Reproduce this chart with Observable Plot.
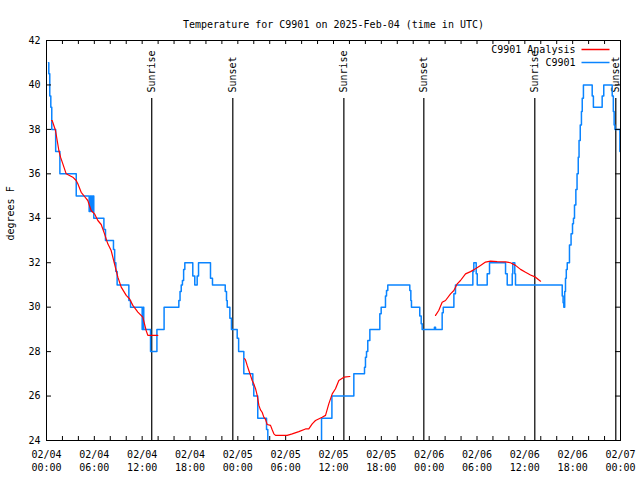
<!DOCTYPE html>
<html>
<head>
<meta charset="utf-8">
<script src="https://cdn.jsdelivr.net/npm/d3@7"></script>
<script src="https://cdn.jsdelivr.net/npm/@observablehq/plot@0.6"></script>
<style>
  html, body { margin: 0; padding: 0; background: #fff; }
</style>
</head>
<body>
<div id="chart"></div>
<script>
// ---------------- data ----------------
const titleText = "Temperature for C9901 on 2025-Feb-04 (time in UTC)";
const yLabel = "degrees F";
const startUTC = Date.UTC(2025, 1, 4, 0, 0);   // 02/04 00:00 UTC
const spanHours = 72;

// Observations (C9901), hours since start, step series
const obsHours = [0.25,0.29,0.41,0.54,0.66,1.15,1.68,3.73,5.35,5.5,5.65,5.8,5.93,7.2,7.4,8.4,8.55,8.7,8.86,10.33,10.54,
  12.0,12.1,12.2,13.05,13.85,14.75,16.6,16.75,16.9,17.05,17.2,17.35,18.35,18.6,18.9,19.07,20.57,20.82,22.42,22.58,22.67,23.0,23.2,
  23.92,24.1,24.75,25.88,26.0,26.5,27.6,27.76,29.0,33.0,34.5,35.8,38.55,39.89,40.01,40.14,40.3,40.56,41.81,41.98,42.52,42.65,42.81,
  45.57,45.7,45.78,46.82,47.0,47.12,48.66,48.8,49.63,49.77,51.1,51.3,53.48,53.6,53.9,54.03,55.28,55.57,57.58,57.79,58.42,58.49,58.74,58.83,
  64.69,64.8,64.89,65.0,65.1,65.2,65.32,65.6,65.8,65.98,66.1,66.23,66.4,66.55,66.7,66.8,66.95,67.1,67.2,67.35,68.45,68.6,69.7,69.9,
  70.96,71.1,71.2,71.3,71.92,72.0];
const obsTemps = [41.0,40.5,39.5,39.0,38.0,37.0,36.0,35.0,34.3,35.0,34.3,35.0,34.0,33.5,33.0,32.6,32.0,31.6,31.0,30.3,30.0,
  29.0,30.0,29.0,28.0,29.0,30.0,30.3,30.7,31.0,31.2,31.7,32.0,31.4,31.0,31.4,32.0,31.3,31.0,30.7,30.3,30.0,29.5,29.0,
  28.6,28.0,27.0,26.5,26.0,25.0,24.5,23.0,22.0,23.0,25.0,26.0,27.0,27.3,27.75,28.0,28.5,29.0,29.7,30.0,30.5,30.75,31.0,
  30.75,30.3,30.0,29.6,29.25,29.0,29.1,29.0,29.75,30.0,30.6,31.0,31.6,32.0,31.5,31.0,31.5,32.0,31.5,31.0,31.5,32.0,31.5,31.0,
  30.5,30.2,30.0,30.7,31.3,31.7,32.0,32.8,33.3,33.75,34.0,34.6,35.3,36.0,36.75,37.5,38.2,38.8,39.4,40.0,39.5,39.0,39.5,40.0,
  39.5,38.8,38.2,38.0,37.0,37.0];

// Analysis (C9901 Analysis), null separates the three runs
const anaHours = [0.63,0.71,1.13,1.34,1.55,1.76,2.05,2.47,3.3,3.72,3.93,4.35,4.77,5.18,5.6,6.02,6.44,6.86,7.28,7.69,8.11,8.53,8.95,9.37,10.0,10.41,10.83,11.46,12.08,12.5,12.71,13.96,
  14.5,
  24.84,24.96,25.17,25.38,25.59,25.8,26.0,26.22,26.43,26.64,26.84,27.05,27.26,27.47,27.68,28.1,28.31,28.52,28.73,30.19,30.82,31.65,32.49,32.9,33.33,33.74,34.58,35.0,35.41,35.84,36.25,36.67,37.3,38.05,
  40.0,
  48.8,49.2,49.63,50.05,50.68,51.1,51.52,51.93,52.56,53.19,53.81,54.44,55.07,55.7,56.53,57.58,58.2,58.83,59.46,60.09,60.71,61.34,61.97];
const anaTemps = [38.4,38.4,37.95,37.5,37.05,36.75,36.45,36.0,35.85,35.7,35.55,35.17,34.98,34.8,34.35,34.2,33.9,33.72,33.3,32.85,32.55,31.95,31.35,30.9,30.53,30.38,30.08,29.78,29.55,28.95,28.73,28.73,
  null,
  27.68,27.63,27.38,27.15,26.93,26.7,26.55,26.33,26.03,25.58,25.38,25.27,25.05,24.95,24.72,24.68,24.48,24.3,24.23,24.23,24.3,24.4,24.52,24.52,24.75,24.9,25.05,25.13,25.65,26.1,26.33,26.7,26.85,26.88,
  null,
  29.63,29.85,30.22,30.3,30.6,30.75,31.05,31.2,31.5,31.6,31.73,31.88,32.03,32.07,32.05,32.04,32.0,31.88,31.7,31.57,31.45,31.35,31.17];

// Sunrise / sunset events
const eventHours = [13.2, 23.37, 37.3, 47.33, 61.25, 71.41];
const eventLabels = ["Sunrise", "Sunset", "Sunrise", "Sunset", "Sunrise", "Sunset"];

// Axis ticks
const xTickHours = [0, 6, 12, 18, 24, 30, 36, 42, 48, 54, 60, 66, 72];
const xTickLabels = ["02/04\n00:00","02/04\n06:00","02/04\n12:00","02/04\n18:00","02/05\n00:00","02/05\n06:00",
  "02/05\n12:00","02/05\n18:00","02/06\n00:00","02/06\n06:00","02/06\n12:00","02/06\n18:00","02/07\n00:00"];
const xMinorHours = d3.range(0, 73, 2);
const yTicks = [24, 26, 28, 30, 32, 34, 36, 38, 40, 42];

// Legend
const legendLabels = ["C9901 Analysis", "C9901"];
const legendColors = ["#ff0000", "#0a84ff"];

// ---------------- build ----------------
const toDate = h => new Date(startUTC + h * 3600e3);
const obs = obsHours.map((h, i) => ({t: toDate(h), v: obsTemps[i]}));
const ana = anaHours.map((h, i) => ({t: toDate(h), v: anaTemps[i]}));
const events = eventHours.map((h, i) => ({t: toDate(h), label: eventLabels[i]}));
const xTicks = xTickHours.map((h, i) => ({t: toDate(h), label: xTickLabels[i]}));

const lineShape = {draw(context, l) { context.moveTo(0, 0); context.lineTo(0, -l); }};

const legendMarks = legendLabels.flatMap((lab, i) => [
  Plot.text([lab], {frameAnchor: "top-right", dx: -45, dy: 9 + 13 * i, text: d => d, textAnchor: "end", lineAnchor: "middle"}),
  Plot.vector([lab], {frameAnchor: "top-right", dx: -11, dy: 9 + 13 * i, length: 28, rotate: -90, anchor: "start",
    stroke: legendColors[i], strokeWidth: 1.5, strokeLinecap: "butt", shape: lineShape})
]);

const chart = Plot.plot({
  width: 640,
  height: 480,
  marginTop: 40,
  marginBottom: 40,
  marginLeft: 46,
  marginRight: 20,
  style: {fontFamily: "'DejaVu Sans Mono', monospace", fontSize: "10px", background: "#fff", color: "#000", overflow: "visible"},
  x: {type: "utc", domain: [toDate(0), toDate(spanHours)], axis: null},
  y: {domain: [24, 42], axis: null},
  marks: [
    // sunrise / sunset
    Plot.ruleX(events, {x: "t", insetTop: 58, stroke: "#000", strokeWidth: 1.2}),
    Plot.text(events, {x: "t", frameAnchor: "top", dy: 52, rotate: -90, textAnchor: "start", lineAnchor: "middle", text: "label"}),
    // series
    Plot.line(obs, {x: "t", y: "v", curve: "step-after", stroke: legendColors[1], strokeWidth: 1.5, clip: true}),
    Plot.line(ana, {x: "t", y: "v", stroke: legendColors[0], strokeWidth: 1.2, clip: true}),
    // ticks (inward)
    Plot.ruleX(xMinorHours, {x: h => toDate(h), insetTop: 396, stroke: "#000"}),
    Plot.ruleX(xMinorHours, {x: h => toDate(h), insetBottom: 396, stroke: "#000"}),
    Plot.ruleY(yTicks, {y: d => d, insetRight: 569, stroke: "#000"}),
    Plot.ruleY(yTicks, {y: d => d, insetLeft: 569, stroke: "#000"}),
    // tick labels
    Plot.text(xTicks, {x: "t", frameAnchor: "bottom", dy: 8, lineAnchor: "top", lineHeight: 1.3, text: "label"}),
    Plot.text(yTicks, {y: d => d, frameAnchor: "left", dx: -6, textAnchor: "end", text: d => String(d)}),
    // frame, title, y label
    Plot.frame({stroke: "#000"}),
    Plot.text([titleText], {frameAnchor: "top", dy: -20, text: d => d}),
    Plot.text([yLabel], {frameAnchor: "left", dx: -36, rotate: -90, text: d => d}),
    ...legendMarks
  ]
});
document.getElementById("chart").appendChild(chart);
</script>
</body>
</html>
